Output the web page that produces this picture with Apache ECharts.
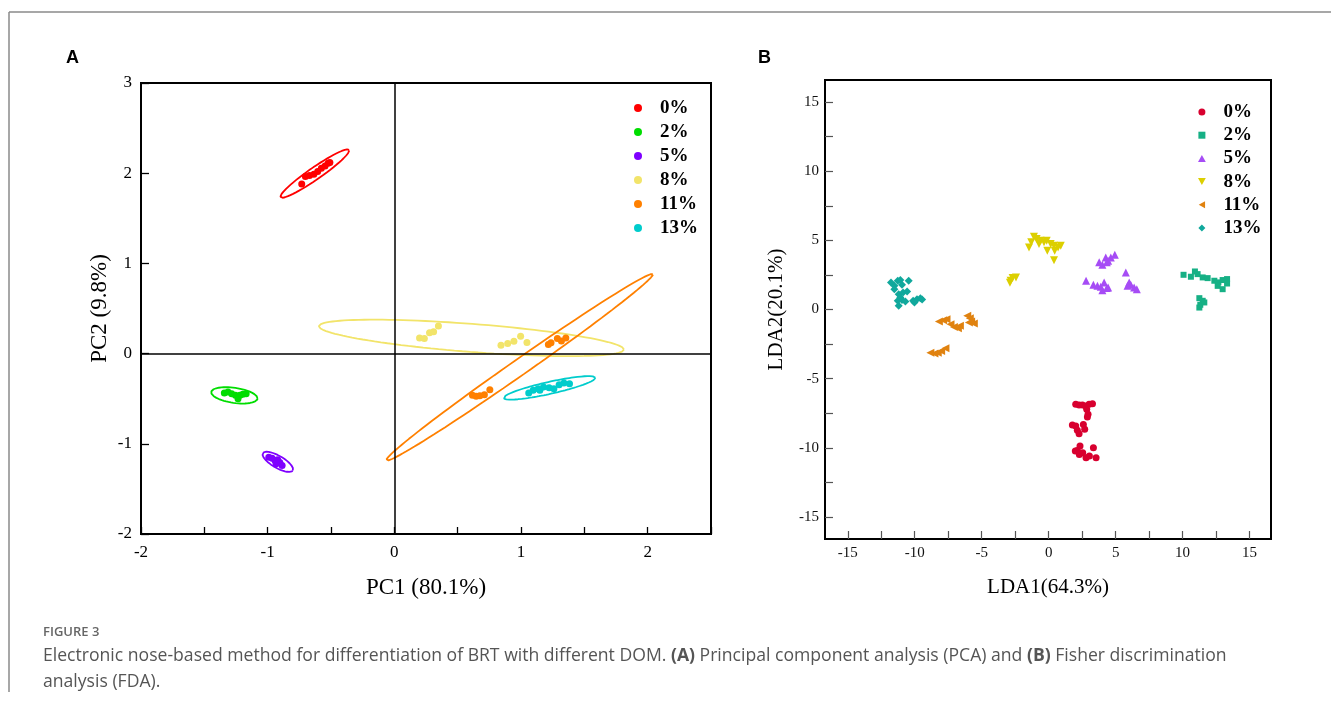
<!DOCTYPE html>
<html>
<head>
<meta charset="utf-8">
<script src="https://cdn.jsdelivr.net/npm/echarts@6.0.0/dist/echarts.min.js"></script>
<style>
  html, body { margin: 0; padding: 0; background: #fff; }
  #chart { width: 1331px; height: 706px; }
</style>
</head>
<body>
<div id="chart"></div>
<script>
const groups = ['0%', '2%', '5%', '8%', '11%', '13%']

// Panel A: PCA scores
const pca0 = [[-0.731, 1.881], [-0.702, 1.963], [-0.670, 1.974], [-0.635, 1.989], [-0.605, 2.019], [-0.576, 2.056], [-0.547, 2.081], [-0.523, 2.111], [-0.509, 2.119]]
const pca2 = [[-1.342, -0.437], [-1.313, -0.426], [-1.284, -0.444], [-1.254, -0.463], [-1.234, -0.500], [-1.219, -0.463], [-1.196, -0.452], [-1.170, -0.444]]
const pca5 = [[-0.991, -1.148], [-0.965, -1.159], [-0.942, -1.185], [-0.921, -1.178], [-0.904, -1.207], [-0.886, -1.241], [-0.933, -1.222]]
const pca8 = [[0.199, 0.174], [0.237, 0.167], [0.278, 0.230], [0.310, 0.241], [0.348, 0.307], [0.842, 0.093], [0.895, 0.111], [0.944, 0.137], [0.997, 0.193], [1.047, 0.122]]
const pca11 = [[0.617, -0.463], [0.646, -0.474], [0.675, -0.467], [0.711, -0.456], [0.754, -0.400], [1.216, 0.100], [1.237, 0.119], [1.287, 0.167], [1.319, 0.141], [1.354, 0.174]]
const pca13 = [[1.061, -0.437], [1.096, -0.407], [1.135, -0.389], [1.178, -0.370], [1.222, -0.378], [1.260, -0.389], [1.301, -0.344], [1.339, -0.326], [1.383, -0.333], [1.149, -0.407]]

// confidence ellipses: centre x, centre y, semi-axis u (dx, dy), semi-axis v (dx, dy)
const pcaEllipses = [
  [-0.6275, 1.996, 0.2705, 0.263, -0.027, 0.055],
  [-1.263, -0.463, 0.183, -0.037, 0.0084, 0.0826],
  [-0.920, -1.200, 0.1185, -0.096, 0.0237, 0.0578],
  [0.6085, 0.174, 1.2045, -0.13, 0.0085, 0.155],
  [0.9885, -0.152, 1.0525, 1.033, -0.0362, 0.0729],
  [1.2255, -0.380, 0.3625, 0.113, -0.0103, 0.065]
]

// Panel B: LDA scores
const lda0 = [[2.02, -6.86], [2.27, -6.91], [2.52, -6.91], [2.77, -6.98], [3.02, -6.86], [3.27, -6.81], [2.84, -7.22], [2.94, -7.58], [2.89, -7.78], [1.77, -8.36], [2.02, -8.43], [2.14, -8.74], [2.27, -8.99], [2.59, -8.31], [2.69, -8.67], [2.14, -10.19], [2.34, -9.88], [2.54, -10.36], [2.79, -10.72], [3.04, -10.60], [3.34, -10.00], [3.54, -10.72], [1.99, -10.24], [2.29, -10.48]]
const lda2 = [[10.07, 2.51], [10.62, 2.37], [10.92, 2.75], [11.12, 2.56], [11.50, 2.32], [11.87, 2.27], [12.37, 2.08], [12.67, 1.96], [12.99, 2.13], [13.32, 2.20], [12.62, 1.71], [12.99, 1.47], [13.32, 1.88], [11.25, 0.82], [11.50, 0.63], [11.32, 0.34], [11.62, 0.51], [11.25, 0.14]]
const lda5 = [[3.77, 3.41], [4.01, 3.24], [4.26, 3.77], [4.44, 3.53], [4.64, 3.77], [4.94, 3.96], [4.34, 3.41], [2.79, 2.08], [3.34, 1.79], [3.64, 1.71], [3.89, 1.64], [4.01, 1.40], [4.14, 1.96], [4.34, 1.55], [4.44, 1.59], [5.76, 2.68], [6.01, 1.96], [6.13, 1.79], [6.38, 1.59], [6.58, 1.47], [5.89, 1.71]]
const lda8 = [[-1.47, 4.49], [-1.30, 4.86], [-1.10, 5.27], [-0.90, 5.10], [-0.72, 4.73], [-0.60, 4.98], [-0.35, 4.86], [-0.15, 4.98], [-0.10, 4.25], [0.15, 4.73], [0.40, 4.61], [0.45, 4.25], [0.70, 4.49], [0.90, 4.61], [0.40, 3.57], [-2.84, 2.08], [-2.69, 2.27], [-2.44, 2.32], [-2.89, 1.93]]
const lda11 = [[-8.20, -0.87], [-7.88, -0.77], [-7.63, -0.70], [-7.33, -1.06], [-7.08, -1.26], [-6.78, -1.35], [-6.63, -1.18], [-6.08, -0.46], [-5.89, -0.63], [-5.79, -0.87], [-5.59, -1.01], [-5.96, -0.94], [-8.83, -3.12], [-8.53, -3.19], [-8.28, -3.12], [-8.03, -3.00], [-7.71, -2.80]]
const lda13 = [[-11.77, 1.96], [-11.52, 1.71], [-11.27, 2.08], [-11.07, 2.13], [-10.95, 1.79], [-10.45, 2.08], [-11.52, 1.47], [-11.20, 1.11], [-10.87, 1.23], [-10.57, 1.30], [-11.07, 0.87], [-11.27, 0.63], [-10.95, 0.68], [-10.70, 0.58], [-11.20, 0.27], [-10.12, 0.63], [-9.83, 0.75], [-9.58, 0.82], [-9.45, 0.72], [-10.02, 0.51]]

const ldaTickLabels = [-15, -10, -5, 0, 5, 10, 15]
const ldaTicks = [-15, -12.5, -10, -7.5, -5, -2.5, 0, 2.5, 5, 7.5, 10, 12.5, 15]

const pcaData = [pca0, pca2, pca5, pca8, pca11, pca13]
const ldaData = [lda0, lda2, lda5, lda8, lda11, lda13]

const colorsA = ['#ff0000', '#00dd00', '#7f00ff', '#f2e46a', '#ff8000', '#00cccc']
const colorsB = ['#d8002f', '#16b085', '#a64cf5', '#dccf00', '#e0820f', '#10a89c']
const symbolsB = [
  'circle',
  'path://M0,0L10,0L10,10L0,10Z',
  'path://M5,0L10,9L0,9Z',
  'path://M0,0L10,0L5,9Z',
  'path://M9,0L9,10L0,5Z',
  'path://M5,0L10,5L5,10L0,5Z'
]
const symbolSizesB = [7, 6, 8, 8, 8, 8]

const serif = 'Liberation Serif, Times New Roman, serif'

const ellipsePoints = (e) => {
  const pts = []
  for (let i = 0; i <= 120; i++) {
    const t = (i / 120) * Math.PI * 2
    pts.push([
      e[0] + e[2] * Math.cos(t) + e[4] * Math.sin(t),
      e[1] + e[3] * Math.cos(t) + e[5] * Math.sin(t)
    ])
  }
  return pts
}

const tickFont = (size) => ({ fontFamily: serif, fontSize: size, color: '#000' })

const series = []

groups.forEach((g, i) => {
  series.push({
    name: g,
    type: 'scatter',
    xAxisIndex: 0,
    yAxisIndex: 0,
    symbolSize: 7,
    itemStyle: { color: colorsA[i], opacity: 1 },
    z: 5,
    data: pcaData[i],
    markLine: i === 0 ? {
      silent: true,
      symbol: 'none',
      label: { show: false },
      lineStyle: { color: '#000', width: 1.5, type: 'solid' },
      data: [{ xAxis: 0 }, { yAxis: 0 }]
    } : undefined
  })
})

groups.forEach((g, i) => {
  series.push({
    name: g,
    type: 'line',
    xAxisIndex: 0,
    yAxisIndex: 0,
    showSymbol: false,
    silent: true,
    z: 3,
    lineStyle: { color: colorsA[i], width: 1.8 },
    data: ellipsePoints(pcaEllipses[i])
  })
})

groups.forEach((g, i) => {
  series.push({
    name: g,
    type: 'scatter',
    xAxisIndex: 1,
    yAxisIndex: 1,
    symbol: symbolsB[i],
    symbolSize: symbolSizesB[i],
    itemStyle: { color: colorsB[i], opacity: 1 },
    data: ldaData[i]
  })
})

const legendText = { fontFamily: serif, fontWeight: 'bold', fontSize: 19, color: '#000', lineHeight: 20 }

const option = {
  animation: false,
  backgroundColor: '#fff',
  grid: [
    { left: 141, top: 83, width: 570, height: 451, show: true, borderColor: '#000', borderWidth: 2, backgroundColor: 'transparent' },
    { left: 825, top: 80, width: 446, height: 459, show: true, borderColor: '#000', borderWidth: 2, backgroundColor: 'transparent' }
  ],
  xAxis: [
    {
      gridIndex: 0,
      type: 'value',
      min: -2,
      max: 2.5,
      interval: 0.5,
      axisLine: { show: false, onZero: false },
      splitLine: { show: false },
      axisTick: { inside: true, length: 7, lineStyle: { color: '#000', width: 1.3 } },
      axisLabel: { ...tickFont(17), margin: 10, formatter: v => (Number.isInteger(v) && v < 2.5 ? String(v) : '') },
      name: 'PC1 (80.1%)',
      nameLocation: 'middle',
      nameGap: 42,
      nameTextStyle: { fontFamily: serif, fontSize: 23, color: '#000' }
    },
    {
      gridIndex: 1,
      type: 'value',
      min: -16.7,
      max: 16.6,
      axisLine: { show: false, onZero: false },
      splitLine: { show: false },
      axisTick: { inside: true, length: 8, customValues: ldaTicks, lineStyle: { color: '#555', width: 1.2 } },
      axisLabel: { ...tickFont(15), color: '#111', margin: 7, customValues: ldaTickLabels },
      name: 'LDA1(64.3%)',
      nameLocation: 'middle',
      nameGap: 38,
      nameTextStyle: { fontFamily: serif, fontSize: 21, color: '#000' }
    }
  ],
  yAxis: [
    {
      gridIndex: 0,
      type: 'value',
      min: -2,
      max: 3,
      interval: 1,
      axisLine: { show: false, onZero: false },
      splitLine: { show: false },
      axisTick: { inside: true, length: 8, lineStyle: { color: '#000', width: 1.3 } },
      axisLabel: { ...tickFont(17), margin: 9 },
      name: 'PC2 (9.8%)',
      nameLocation: 'middle',
      nameGap: 30,
      nameTextStyle: { fontFamily: serif, fontSize: 23, color: '#000' }
    },
    {
      gridIndex: 1,
      type: 'value',
      min: -16.6,
      max: 16.6,
      axisLine: { show: false, onZero: false },
      splitLine: { show: false },
      axisTick: { inside: true, length: 8, customValues: ldaTicks, lineStyle: { color: '#555', width: 1.2 } },
      axisLabel: { ...tickFont(15), color: '#111', margin: 6, customValues: ldaTickLabels },
      name: 'LDA2(20.1%)',
      nameLocation: 'middle',
      nameGap: 38,
      nameTextStyle: { fontFamily: serif, fontSize: 21, color: '#000' }
    }
  ],
  legend: [
    {
      orient: 'vertical',
      left: 629,
      top: 93,
      itemWidth: 34,
      itemHeight: 8,
      itemGap: 4.0,
      selectedMode: false,
      textStyle: legendText,
      data: groups.map((g, i) => ({ name: g, icon: 'circle', itemStyle: { color: colorsA[i] } }))
    },
    {
      orient: 'vertical',
      left: 1193,
      top: 97,
      itemWidth: 33,
      itemHeight: 7,
      itemGap: 3.2,
      selectedMode: false,
      textStyle: legendText,
      data: groups.map((g, i) => ({ name: g, icon: symbolsB[i], itemStyle: { color: colorsB[i] } }))
    }
  ],
  graphic: [
    { type: 'line', shape: { x1: 9, y1: 12, x2: 1331, y2: 12 }, style: { stroke: '#8a8a8a', lineWidth: 1.5 } },
    { type: 'line', shape: { x1: 9, y1: 12, x2: 9, y2: 692 }, style: { stroke: '#8a8a8a', lineWidth: 1.5 } },
    { type: 'text', left: 66, top: 49, style: { text: 'A', font: 'bold 18px Liberation Sans, Arial, sans-serif', fill: '#000' } },
    { type: 'text', left: 758, top: 49, style: { text: 'B', font: 'bold 18px Liberation Sans, Arial, sans-serif', fill: '#000' } },
    { type: 'text', left: 43, top: 626, style: { text: 'FIGURE 3', font: '600 13px Open Sans, sans-serif', fill: '#666' } },
    {
      type: 'text',
      left: 43,
      top: 643,
      style: {
        text: 'Electronic nose-based method for differentiation of BRT with different DOM. {b|(A)} Principal component analysis (PCA) and {b|(B)} Fisher discrimination\nanalysis (FDA).',
        font: '17.6px Open Sans, sans-serif',
        fill: '#555',
        lineHeight: 26,
        rich: { b: { fontFamily: 'Open Sans, sans-serif', fontSize: 17.6, fontWeight: 'bold', fill: '#555', lineHeight: 26 } }
      }
    }
  ],
  series
}

const chart = echarts.init(document.getElementById('chart'))
chart.setOption(option)
</script>
</body>
</html>
